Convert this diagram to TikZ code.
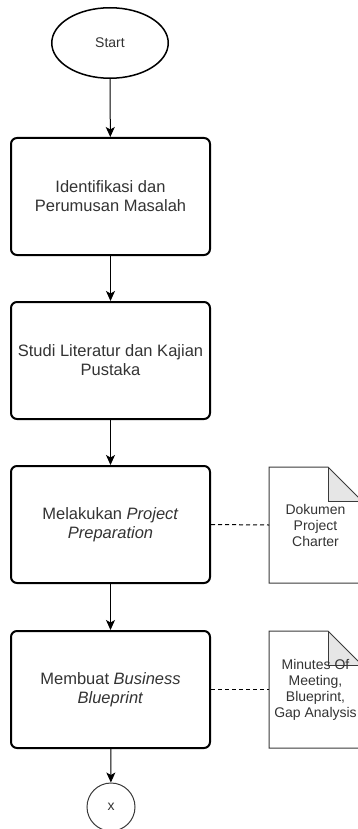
\documentclass[tikz,border=0pt]{standalone}
\usepackage{fontspec}
\setmainfont{Liberation Sans}
\usetikzlibrary{shapes.geometric,arrows.meta}
\definecolor{ink}{HTML}{333333}
\definecolor{foldgray}{HTML}{E6E6E6}
\definecolor{docline}{HTML}{3A3A3A}
\begin{document}
\begin{tikzpicture}[x=1pt,y=-1pt,
  flow/.style={-{Stealth[length=10pt,width=9pt,inset=2.5pt]}, line width=1pt, black},
  process/.style={draw=black, line width=2pt, rounded corners=6pt,
    minimum width=199pt, minimum height=117pt, align=center,
    font=\fontsize{16.5}{19}\selectfont, text=ink},
  terminal/.style={ellipse, draw=black, line width=1.5pt,
    minimum width=116.5pt, minimum height=70.5pt,
    font=\fontsize{14}{16}\selectfont, text=ink},
  docbox/.style={minimum width=93pt, inner sep=0pt, outer sep=0pt},
  doctext/.style={inner sep=0pt, align=center,
    font=\fontsize{14}{16}\selectfont, text=ink},
  docoutline/.style={draw=docline, line width=1pt, line join=miter},
  link/.style={line width=1pt, black, dash pattern=on 4pt off 3pt},
  offpage/.style={circle, draw=docline, line width=1pt, minimum size=48pt,
    inner sep=0pt, font=\fontsize{14}{16}\selectfont, text=ink}
]
\useasboundingbox (0,0) rectangle (358,829);
\clip (0,0) rectangle (358,829);

% main flow
\node[terminal] (start) at (110,43) {Start};
\node[process] (b1) at (110.5,196.5) {Identifikasi dan\\Perumusan Masalah};
\node[process] (b2) at (110.5,360.5) {Studi Literatur dan Kajian\\Pustaka};
\node[process] (b3) at (110.5,524.5) {Melakukan \textit{Project}\\\textit{Preparation}};
\node[process] (b4) at (110.5,689.5) {Membuat \textit{Business}\\\textit{Blueprint}};
\node[offpage] (x) at (111,807) {x};

\draw[flow] (start) -- (b1);
\draw[flow] (b1) -- (b2);
\draw[flow] (b2) -- (b3);
\draw[flow] (b3) -- (b4);
\draw[flow] (b4) -- (x);

% output documents with folded corner
\node[docbox, minimum height=116pt] (d1) at (315.5,525) {};
\node[docbox, minimum height=117pt] (d2) at (315.5,689.5) {};

\foreach \d in {d1,d2}{
  \fill[foldgray] ([xshift=-34pt]\d.north east) -- ([xshift=-34pt,yshift=-34pt]\d.north east)
    -- ([yshift=-34pt]\d.north east) -- cycle;
  \draw[docoutline] (\d.north west) -- ([xshift=-34pt]\d.north east)
    -- ([yshift=-34pt]\d.north east) -- (\d.south east) -- (\d.south west) -- cycle;
  \draw[docoutline] ([xshift=-34pt]\d.north east) -- ([xshift=-34pt,yshift=-34pt]\d.north east)
    -- ([yshift=-34pt]\d.north east);
}

\node[doctext] (t1) at (d1) {Dokumen\\Project\\Charter};
\node[doctext] (t2) at (d2) {Minutes Of\\Meeting,\\Blueprint,\\Gap Analysis};

\draw[link] (b3.east) -- (d1.west);
\draw[link] (b4.east) -- (d2.west);
\end{tikzpicture}
\end{document}
